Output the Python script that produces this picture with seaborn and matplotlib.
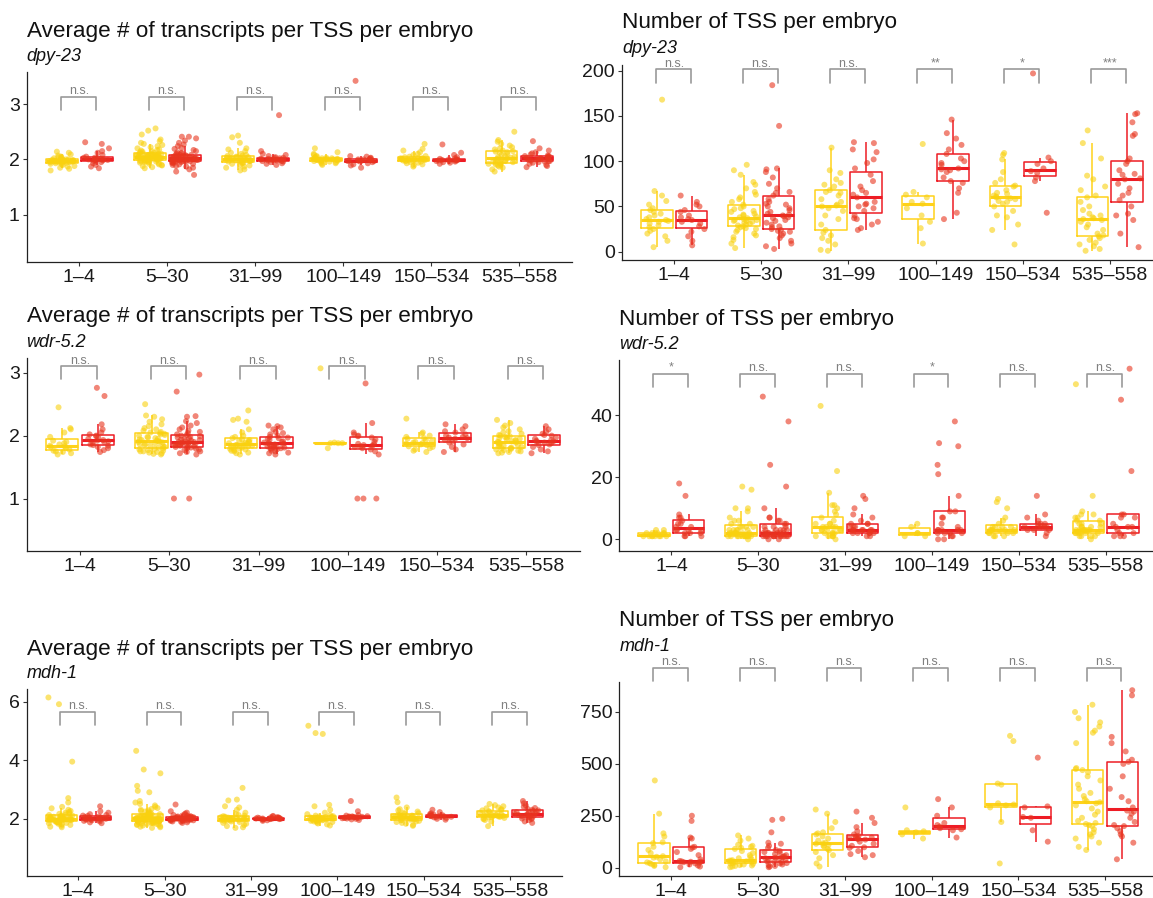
import numpy as np
import pandas as pd
import seaborn as sns
import matplotlib
matplotlib.use("Agg")
import matplotlib.pyplot as plt

# ----------------------------------------
# Data: one list per length bin, per group
# ----------------------------------------

BINS = ["1–4", "5–30", "31–99", "100–149", "150–534", "535–558"]
GROUPS = ["yellow", "red"]

# dpy-23: average # of transcripts per TSS per embryo
dpy23_avg_yellow = [
    [1.80, 1.83, 1.85, 1.87, 1.88, 1.90, 1.91, 1.92, 1.93, 1.94, 1.94, 1.95, 1.95, 1.95, 1.96, 1.96, 1.96, 1.97, 1.97,
     1.97, 1.97, 1.98, 1.98, 1.98, 1.99, 1.99, 2.00, 2.00, 2.00, 2.01, 2.02, 2.03, 2.04, 2.05, 2.07, 2.09, 2.12, 2.14],
    [1.84, 1.86, 1.88, 1.89, 1.90, 1.91, 1.92, 1.93, 1.94, 1.95, 1.95, 1.96, 1.96, 1.97, 1.97, 1.98, 1.98, 1.98, 1.99,
     1.99, 1.99, 2.00, 2.00, 2.00, 2.01, 2.01, 2.01, 2.02, 2.02, 2.02, 2.03, 2.03, 2.03, 2.04, 2.04, 2.04, 2.05, 2.05,
     2.05, 2.05, 2.06, 2.06, 2.06, 2.07, 2.07, 2.07, 2.08, 2.08, 2.08, 2.09, 2.09, 2.10, 2.10, 2.11, 2.11, 2.12, 2.13,
     2.14, 2.15, 2.16, 2.17, 2.18, 2.20, 2.22, 2.24, 2.26, 2.28, 2.30, 2.33, 2.36, 2.45, 2.52, 2.56],
    [1.80, 1.82, 1.85, 1.87, 1.89, 1.90, 1.92, 1.93, 1.94, 1.95, 1.96, 1.97, 1.97, 1.98, 1.98, 1.99, 1.99, 2.00, 2.00,
     2.00, 2.01, 2.01, 2.02, 2.02, 2.03, 2.04, 2.04, 2.05, 2.06, 2.07, 2.08, 2.10, 2.12, 2.15, 2.18, 2.20, 2.30, 2.40, 2.43],
    [1.90, 1.92, 1.93, 1.94, 1.95, 1.96, 1.97, 1.97, 1.98, 1.98, 1.98, 1.99, 1.99, 1.99, 2.00, 2.00, 2.00, 2.00, 2.01,
     2.01, 2.01, 2.02, 2.02, 2.03, 2.03, 2.04, 2.05, 2.06, 2.08, 2.10, 2.13, 2.20],
    [1.87, 1.89, 1.91, 1.93, 1.94, 1.95, 1.96, 1.97, 1.97, 1.98, 1.98, 1.99, 1.99, 2.00, 2.00, 2.00, 2.01, 2.01, 2.02,
     2.02, 2.03, 2.04, 2.05, 2.06, 2.08, 2.10, 2.13, 2.16, 2.19, 2.28],
    [1.78, 1.82, 1.85, 1.87, 1.89, 1.90, 1.91, 1.92, 1.93, 1.94, 1.94, 1.95, 1.96, 1.97, 1.98, 1.99, 2.00, 2.00, 2.01,
     2.02, 2.03, 2.04, 2.05, 2.06, 2.08, 2.10, 2.12, 2.13, 2.14, 2.15, 2.16, 2.18, 2.20, 2.22, 2.25, 2.28, 2.32, 2.35, 2.50],
]
dpy23_avg_red = [
    [1.84, 1.87, 1.90, 1.93, 1.95, 1.97, 1.98, 1.98, 1.99, 1.99, 2.00, 2.00, 2.00, 2.01, 2.01, 2.02, 2.03, 2.03, 2.05,
     2.08, 2.12, 2.15, 2.20, 2.28, 2.31],
    [1.72, 1.78, 1.82, 1.85, 1.87, 1.88, 1.90, 1.91, 1.92, 1.93, 1.94, 1.95, 1.95, 1.96, 1.96, 1.97, 1.97, 1.97, 1.98,
     1.98, 1.98, 1.99, 1.99, 1.99, 2.00, 2.00, 2.00, 2.01, 2.01, 2.01, 2.02, 2.02, 2.02, 2.02, 2.03, 2.03, 2.03, 2.04,
     2.04, 2.05, 2.05, 2.06, 2.06, 2.07, 2.07, 2.08, 2.08, 2.09, 2.10, 2.11, 2.12, 2.13, 2.15, 2.17, 2.19, 2.21, 2.24,
     2.27, 2.30, 2.34, 2.38, 2.41, 2.41],
    [1.90, 1.92, 1.93, 1.95, 1.96, 1.97, 1.97, 1.98, 1.98, 1.99, 1.99, 1.99, 2.00, 2.00, 2.00, 2.01, 2.01, 2.02, 2.03,
     2.03, 2.04, 2.06, 2.08, 2.10, 2.15, 2.80],
    [1.85, 1.89, 1.91, 1.93, 1.95, 1.96, 1.97, 1.97, 1.98, 1.98, 1.98, 1.99, 1.99, 2.00, 2.00, 2.01, 2.02, 2.03, 2.05,
     2.06, 3.42],
    [1.92, 1.94, 1.95, 1.96, 1.97, 1.97, 1.98, 1.98, 1.98, 1.99, 1.99, 2.00, 2.00, 2.01, 2.02, 2.04, 2.08, 2.12, 2.27],
    [1.86, 1.88, 1.90, 1.92, 1.94, 1.95, 1.96, 1.97, 1.97, 1.98, 1.99, 2.00, 2.00, 2.01, 2.02, 2.02, 2.03, 2.03, 2.04,
     2.05, 2.06, 2.06, 2.07, 2.09, 2.11, 2.13, 2.16, 2.20, 2.33],
]

# dpy-23: number of TSS per embryo
dpy23_tss_yellow = [
    [5, 12, 17, 20, 23, 25, 27, 29, 31, 33, 34, 35, 36, 38, 40, 42, 44, 46, 48, 52, 56, 62, 67, 168],
    [4, 9, 13, 16, 18, 20, 22, 24, 25, 26, 27, 28, 29, 30, 31, 32, 33, 34, 34, 35, 35, 36, 37, 38, 39, 40, 41, 42, 44,
     45, 47, 48, 50, 52, 55, 58, 60, 63, 66, 70, 74, 77, 85, 90, 96],
    [1, 2, 8, 12, 15, 18, 21, 24, 30, 36, 40, 45, 48, 50, 51, 52, 55, 58, 62, 65, 66, 68, 72, 74, 76, 80, 87, 90, 115],
    [9, 26, 33, 40, 48, 53, 55, 60, 63, 66, 119],
    [8, 24, 30, 38, 40, 45, 50, 53, 55, 56, 58, 59, 60, 61, 62, 64, 65, 68, 72, 73, 76, 80, 88, 102, 107, 109],
    [1, 3, 6, 8, 10, 13, 15, 17, 18, 20, 24, 27, 30, 33, 35, 36, 37, 38, 40, 42, 46, 50, 55, 60, 62, 68, 72, 80, 84,
     103, 120, 134],
]
dpy23_tss_red = [
    [7, 12, 17, 22, 25, 28, 31, 33, 35, 36, 38, 40, 44, 46, 50, 52, 55, 62],
    [3, 6, 9, 12, 15, 18, 20, 22, 23, 24, 25, 27, 28, 30, 32, 34, 35, 37, 38, 39, 40, 41, 42, 44, 46, 48, 50, 52, 53,
     55, 58, 62, 65, 66, 70, 75, 82, 88, 91, 92, 139, 184],
    [24, 26, 30, 33, 36, 37, 40, 45, 48, 50, 52, 53, 55, 60, 63, 65, 68, 72, 78, 85, 92, 98, 102, 110, 113, 120, 121],
    [36, 43, 65, 70, 76, 78, 82, 88, 90, 91, 92, 96, 98, 100, 103, 108, 113, 118, 125, 131, 146],
    [43, 78, 82, 87, 89, 92, 97, 100, 104, 197],
    [5, 20, 35, 40, 42, 50, 57, 62, 65, 70, 75, 80, 81, 85, 86, 90, 97, 100, 103, 128, 130, 143, 152, 153],
]

# wdr-5.2: average # of transcripts per TSS per embryo
wdr52_avg_yellow = [
    [1.70, 1.72, 1.74, 1.75, 1.76, 1.78, 1.80, 1.82, 1.83, 1.84, 1.86, 1.88, 1.90, 1.92, 1.98, 2.05, 2.10, 2.12, 2.45],
    [1.70, 1.71, 1.72, 1.73, 1.74, 1.75, 1.75, 1.76, 1.77, 1.78, 1.79, 1.80, 1.81, 1.82, 1.83, 1.84, 1.85, 1.86, 1.87,
     1.88, 1.89, 1.90, 1.90, 1.91, 1.92, 1.93, 1.94, 1.95, 1.96, 1.97, 1.98, 2.00, 2.01, 2.02, 2.03, 2.04, 2.05, 2.06,
     2.08, 2.10, 2.12, 2.15, 2.18, 2.22, 2.26, 2.30, 2.32, 2.50],
    [1.70, 1.72, 1.73, 1.75, 1.76, 1.77, 1.78, 1.79, 1.80, 1.80, 1.81, 1.82, 1.83, 1.84, 1.85, 1.85, 1.86, 1.87, 1.88,
     1.89, 1.90, 1.91, 1.92, 1.93, 1.94, 1.96, 1.98, 2.00, 2.05, 2.10, 2.22, 2.25, 2.27, 2.40],
    [1.80, 1.88, 1.88, 1.88, 1.89, 3.07],
    [1.74, 1.76, 1.78, 1.80, 1.82, 1.83, 1.85, 1.86, 1.87, 1.88, 1.89, 1.90, 1.91, 1.93, 1.95, 1.96, 1.98, 2.00, 2.03,
     2.05, 2.27],
    [1.72, 1.73, 1.74, 1.75, 1.76, 1.77, 1.78, 1.79, 1.80, 1.80, 1.81, 1.82, 1.83, 1.84, 1.85, 1.86, 1.87, 1.88, 1.89,
     1.90, 1.90, 1.91, 1.92, 1.93, 1.94, 1.95, 1.96, 1.97, 1.98, 1.99, 2.00, 2.01, 2.03, 2.05, 2.07, 2.10, 2.13, 2.16,
     2.20, 2.25],
]
wdr52_avg_red = [
    [1.74, 1.77, 1.80, 1.82, 1.84, 1.85, 1.86, 1.88, 1.90, 1.91, 1.92, 1.93, 1.95, 1.97, 1.99, 2.00, 2.02, 2.05, 2.10,
     2.18, 2.63, 2.76],
    [1.00, 1.00, 1.70, 1.72, 1.74, 1.75, 1.77, 1.78, 1.79, 1.80, 1.81, 1.82, 1.82, 1.83, 1.84, 1.85, 1.85, 1.86, 1.86,
     1.87, 1.87, 1.88, 1.88, 1.89, 1.89, 1.90, 1.90, 1.91, 1.92, 1.93, 1.94, 1.95, 1.96, 1.97, 1.98, 1.99, 2.00, 2.01,
     2.02, 2.04, 2.06, 2.08, 2.10, 2.13, 2.16, 2.20, 2.23, 2.30, 2.31, 2.70, 2.97],
    [1.70, 1.72, 1.73, 1.75, 1.76, 1.78, 1.79, 1.80, 1.80, 1.81, 1.82, 1.83, 1.84, 1.85, 1.86, 1.86, 1.87, 1.88, 1.89,
     1.90, 1.91, 1.93, 1.95, 1.96, 1.97, 1.98, 2.00, 2.02, 2.04, 2.06, 2.10, 2.13, 2.15, 2.16],
    [1.00, 1.00, 1.00, 1.70, 1.75, 1.78, 1.80, 1.82, 1.83, 1.84, 1.85, 1.86, 1.87, 1.90, 1.94, 1.97, 1.99, 2.00, 2.02,
     2.05, 2.20, 2.83],
    [1.74, 1.78, 1.82, 1.86, 1.89, 1.91, 1.93, 1.95, 1.96, 1.97, 1.98, 2.00, 2.02, 2.05, 2.07, 2.10, 2.15, 2.18],
    [1.72, 1.75, 1.78, 1.82, 1.85, 1.86, 1.88, 1.89, 1.90, 1.91, 1.92, 1.93, 1.95, 1.97, 2.00, 2.01, 2.03, 2.06, 2.10,
     2.15],
]

# wdr-5.2: number of TSS per embryo
wdr52_tss_yellow = [
    [1, 1, 1, 1, 1, 1, 1, 1, 2, 2, 2, 2, 2, 2, 3, 3],
    [0, 1, 1, 1, 1, 1, 1, 1, 1, 1, 1, 1, 2, 2, 2, 2, 2, 2, 2, 2, 3, 3, 3, 3, 3, 4, 4, 4, 4, 5, 5, 6, 6, 7, 9, 10, 10,
     16, 17],
    [0, 1, 1, 1, 1, 1, 2, 2, 2, 2, 3, 3, 3, 3, 3, 4, 4, 4, 4, 5, 5, 5, 6, 7, 8, 9, 10, 11, 11, 15, 22, 43],
    [1, 1, 2, 2, 4, 5],
    [1, 1, 1, 2, 2, 2, 2, 3, 3, 3, 3, 3, 3, 4, 4, 4, 4, 5, 6, 7, 10, 12, 13],
    [0, 1, 1, 1, 1, 2, 2, 2, 2, 2, 2, 3, 3, 3, 3, 3, 3, 3, 4, 4, 4, 4, 5, 5, 5, 6, 6, 7, 7, 8, 8, 9, 14, 50],
]
wdr52_tss_red = [
    [1, 1, 1, 2, 2, 2, 3, 3, 3, 3, 4, 4, 5, 5, 6, 7, 7, 8, 14, 18],
    [0, 0, 1, 1, 1, 1, 1, 1, 1, 1, 1, 1, 1, 2, 2, 2, 2, 2, 2, 2, 2, 3, 3, 3, 3, 3, 4, 4, 4, 5, 5, 6, 6, 7, 7, 10, 17,
     24, 38, 46],
    [1, 1, 2, 2, 2, 2, 2, 3, 3, 3, 3, 3, 3, 4, 4, 4, 5, 5, 5, 6, 7, 8, 10, 13, 14],
    [0, 0, 1, 1, 2, 2, 2, 2, 3, 3, 3, 3, 3, 4, 5, 7, 7, 9, 9, 14, 21, 24, 30, 31, 38],
    [1, 2, 3, 3, 3, 4, 4, 4, 4, 4, 5, 5, 5, 6, 7, 8, 14],
    [1, 1, 1, 2, 2, 3, 4, 4, 4, 5, 7, 7, 8, 8, 22, 45, 55],
]

# mdh-1: average # of transcripts per TSS per embryo
mdh1_avg_yellow = [
    [1.70, 1.72, 1.75, 1.78, 1.80, 1.82, 1.84, 1.85, 1.86, 1.87, 1.88, 1.89, 1.90, 1.91, 1.92, 1.93, 1.93, 1.94, 1.94,
     1.95, 1.95, 1.96, 1.96, 1.97, 1.97, 1.97, 1.98, 1.98, 1.98, 1.99, 1.99, 2.00, 2.00, 2.00, 2.01, 2.02, 2.03, 2.04,
     2.05, 2.06, 2.07, 2.08, 2.09, 2.10, 2.12, 2.14, 2.16, 2.18, 2.20, 2.23, 2.26, 2.30, 2.35, 2.40, 2.55, 2.70, 3.95,
     5.92, 6.15],
    [1.68, 1.70, 1.72, 1.74, 1.76, 1.78, 1.79, 1.80, 1.81, 1.82, 1.83, 1.84, 1.85, 1.86, 1.87, 1.88, 1.89, 1.90, 1.90,
     1.91, 1.91, 1.92, 1.92, 1.93, 1.93, 1.94, 1.94, 1.95, 1.95, 1.96, 1.96, 1.97, 1.97, 1.98, 1.98, 1.99, 1.99, 2.00,
     2.00, 2.00, 2.01, 2.01, 2.02, 2.02, 2.03, 2.03, 2.04, 2.05, 2.05, 2.06, 2.07, 2.08, 2.09, 2.10, 2.11, 2.12, 2.13,
     2.14, 2.15, 2.16, 2.18, 2.20, 2.22, 2.24, 2.26, 2.28, 2.30, 2.33, 2.36, 2.40, 2.45, 2.50, 2.55, 2.60, 2.90, 2.95,
     3.12, 3.55, 3.68, 4.32],
    [1.68, 1.70, 1.74, 1.78, 1.82, 1.85, 1.88, 1.90, 1.92, 1.93, 1.94, 1.95, 1.96, 1.97, 1.98, 1.98, 1.99, 2.00, 2.00,
     2.01, 2.02, 2.02, 2.03, 2.04, 2.05, 2.06, 2.08, 2.10, 2.12, 2.15, 2.20, 2.30, 2.38, 2.42, 2.62, 2.65, 3.05],
    [1.76, 1.80, 1.83, 1.86, 1.88, 1.90, 1.91, 1.92, 1.93, 1.94, 1.95, 1.95, 1.96, 1.97, 1.97, 1.98, 1.98, 1.99, 1.99,
     2.00, 2.00, 2.00, 2.01, 2.01, 2.02, 2.03, 2.03, 2.04, 2.05, 2.06, 2.07, 2.08, 2.10, 2.12, 2.15, 2.20, 2.30, 2.42,
     2.47, 4.90, 4.93, 5.18],
    [1.75, 1.78, 1.82, 1.85, 1.88, 1.90, 1.92, 1.94, 1.95, 1.96, 1.97, 1.98, 1.99, 2.00, 2.01, 2.02, 2.03, 2.04, 2.05,
     2.05, 2.06, 2.07, 2.08, 2.09, 2.10, 2.11, 2.12, 2.14, 2.16, 2.18, 2.20, 2.24, 2.28, 2.32, 2.38, 2.56, 2.72],
    [1.74, 1.90, 1.95, 1.98, 2.00, 2.02, 2.04, 2.05, 2.06, 2.07, 2.08, 2.09, 2.10, 2.11, 2.12, 2.13, 2.14, 2.15, 2.17,
     2.20, 2.22, 2.25, 2.28, 2.30, 2.32, 2.35, 2.38, 2.42, 2.46, 2.50],
]
mdh1_avg_red = [
    [1.84, 1.87, 1.90, 1.92, 1.94, 1.95, 1.96, 1.97, 1.98, 1.99, 2.00, 2.00, 2.01, 2.02, 2.03, 2.04, 2.05, 2.07, 2.09,
     2.10, 2.12, 2.15, 2.20, 2.25, 2.42],
    [1.85, 1.87, 1.89, 1.90, 1.91, 1.92, 1.93, 1.94, 1.95, 1.95, 1.96, 1.96, 1.97, 1.97, 1.98, 1.98, 1.98, 1.99, 1.99,
     1.99, 2.00, 2.00, 2.00, 2.00, 2.01, 2.01, 2.01, 2.02, 2.02, 2.03, 2.03, 2.04, 2.04, 2.05, 2.05, 2.06, 2.07, 2.08,
     2.09, 2.10, 2.12, 2.14, 2.17, 2.20, 2.25, 2.48],
    [1.92, 1.94, 1.96, 1.97, 1.98, 1.98, 1.99, 1.99, 2.00, 2.00, 2.00, 2.01, 2.01, 2.02, 2.02, 2.03, 2.03, 2.04, 2.05,
     2.07, 2.09],
    [1.95, 1.97, 1.99, 2.00, 2.01, 2.02, 2.02, 2.03, 2.04, 2.04, 2.05, 2.05, 2.06, 2.06, 2.07, 2.07, 2.08, 2.10, 2.12,
     2.25, 2.60],
    [1.96, 1.99, 2.02, 2.04, 2.05, 2.06, 2.07, 2.08, 2.08, 2.09, 2.10, 2.11, 2.12, 2.13, 2.15, 2.18, 2.22, 2.30],
    [1.85, 1.90, 1.95, 1.98, 2.00, 2.02, 2.04, 2.06, 2.08, 2.10, 2.12, 2.14, 2.15, 2.16, 2.18, 2.20, 2.22, 2.24, 2.26,
     2.28, 2.30, 2.33, 2.36, 2.40, 2.45, 2.52, 2.60],
]

# mdh-1: number of TSS per embryo
mdh1_tss_yellow = [
    [2, 8, 12, 18, 22, 25, 30, 40, 48, 52, 55, 70, 85, 100, 118, 122, 150, 165, 260, 420],
    [2, 5, 8, 10, 12, 15, 18, 20, 22, 25, 28, 30, 32, 34, 36, 40, 45, 50, 60, 70, 80, 90, 95, 100, 105, 110, 130, 140, 155],
    [5, 20, 45, 60, 75, 84, 90, 100, 105, 110, 115, 117, 120, 130, 140, 150, 160, 165, 170, 190, 220, 260, 280],
    [140, 160, 170, 175, 180, 290],
    [20, 220, 290, 300, 304, 310, 400, 405, 610, 635],
    [85, 100, 120, 140, 150, 160, 170, 185, 200, 205, 210, 215, 225, 240, 255, 270, 285, 300, 310, 315, 320, 330, 345,
     360, 380, 400, 420, 440, 460, 470, 475, 480, 600, 650, 660, 680, 700, 720, 750, 785],
]
mdh1_tss_red = [
    [2, 5, 10, 15, 20, 24, 26, 28, 29, 30, 32, 40, 60, 75, 90, 97, 100, 140, 145, 225, 250],
    [2, 5, 8, 12, 15, 20, 22, 25, 28, 30, 35, 40, 42, 45, 48, 50, 52, 55, 60, 65, 70, 75, 80, 85, 95, 105, 115, 120,
     170, 230, 235],
    [50, 60, 65, 80, 95, 98, 105, 115, 125, 135, 138, 140, 142, 145, 148, 150, 153, 160, 175, 195, 215, 240, 270],
    [145, 180, 185, 190, 198, 205, 215, 250, 290, 330],
    [125, 180, 240, 244, 290, 295, 530],
    [40, 120, 150, 160, 175, 190, 200, 205, 220, 240, 260, 270, 275, 290, 320, 340, 380, 440, 500, 510, 520, 560, 600,
     630, 830, 855],
]

# significance labels per bin
sig_dpy23_avg = ["n.s."] * 6
sig_dpy23_tss = ["n.s.", "n.s.", "n.s.", "**", "*", "***"]
sig_wdr52_avg = ["n.s."] * 6
sig_wdr52_tss = ["*", "n.s.", "n.s.", "*", "n.s.", "n.s."]
sig_mdh1_avg = ["n.s."] * 6
sig_mdh1_tss = ["n.s."] * 6

AVG_TITLE = "Average # of transcripts per TSS per embryo"
TSS_TITLE = "Number of TSS per embryo"


def to_frame(yellow, red):
    rows = []
    for grp, series in zip(GROUPS, [yellow, red]):
        for b, vals in zip(BINS, series):
            rows += [(b, grp, v) for v in vals]
    return pd.DataFrame(rows, columns=["bin", "group", "value"])


# panel layout in pixels: (left, top, right, bottom), title / subtitle baselines,
# y-limits, y-ticks, bracket (low, high, label baseline)
panels = [
    dict(title=AVG_TITLE, gene="dpy-23", y=dpy23_avg_yellow, r=dpy23_avg_red, sig=sig_dpy23_avg,
         box=(26.6, 72, 572, 262), tb=36.7, sb=60.7, ylim=(0.145, 3.58), yt=[1, 2, 3], br=(2.9, 3.13, 3.18)),
    dict(title=TSS_TITLE, gene="dpy-23", y=dpy23_tss_yellow, r=dpy23_tss_red, sig=sig_dpy23_tss,
         box=(622, 65, 1162, 260), tb=28.3, sb=53.3, ylim=(-9.2, 206.3), yt=[0, 50, 100, 150, 200],
         br=(186.7, 201.5, 204.4)),
    dict(title=AVG_TITLE, gene="wdr-5.2", y=wdr52_avg_yellow, r=wdr52_avg_red, sig=sig_wdr52_avg,
         box=(26.6, 358, 580, 551), tb=322.3, sb=347.3, ylim=(0.166, 3.234), yt=[1, 2, 3], br=(2.9, 3.10, 3.14)),
    dict(title=TSS_TITLE, gene="wdr-5.2", y=wdr52_tss_yellow, r=wdr52_tss_red, sig=sig_wdr52_tss,
         box=(619.4, 360, 1157.6, 551), tb=325, sb=349.3, ylim=(-3.77, 57.8), yt=[0, 20, 40],
         br=(49.2, 53.2, 54.3)),
    dict(title=AVG_TITLE, gene="mdh-1", y=mdh1_avg_yellow, r=mdh1_avg_red, sig=sig_mdh1_avg,
         box=(26.6, 689, 562, 876), tb=655, sb=678.3, ylim=(0.03, 6.44), yt=[2, 4, 6], br=(5.22, 5.66, 5.77)),
    dict(title=TSS_TITLE, gene="mdh-1", y=mdh1_tss_yellow, r=mdh1_tss_red, sig=sig_mdh1_tss,
         box=(619.4, 682, 1157, 876), tb=625.7, sb=651, ylim=(-40.5, 894.6), yt=[0, 250, 500, 750],
         br=(899, 961, 977)),
]

# ----------------------------------------
# Plot
# ----------------------------------------

sns.set_theme(style="ticks")
plt.rcParams["font.family"] = ["Liberation Sans", "DejaVu Sans"]

W, H = 1153, 898
fig = plt.figure(figsize=(W / 100, H / 100), dpi=100)
np.random.seed(7)

box_pal = {"yellow": "#FFD21A", "red": "#EE1C25"}
pt_pal = {"yellow": "#F9D10F", "red": "#E8351F"}

for p in panels:
    left, top, right, bottom = p["box"]
    ax = fig.add_axes([left / W, 1 - bottom / H, (right - left) / W, (bottom - top) / H])
    df = to_frame(p["y"], p["r"])

    sns.boxplot(data=df, x="bin", y="value", hue="group", order=BINS, hue_order=GROUPS,
                palette=box_pal, fill=False, width=0.8, gap=0.1, showcaps=False,
                showfliers=False, linewidth=1.1, medianprops={"linewidth": 2.2},
                legend=False, ax=ax)
    sns.stripplot(data=df, x="bin", y="value", hue="group", order=BINS, hue_order=GROUPS,
                  palette=pt_pal, dodge=True, jitter=0.3, size=4.3, alpha=0.6, linewidth=0,
                  legend=False, ax=ax)

    ax.set_xlim(-0.6, 5.6)
    ax.set_ylim(*p["ylim"])
    ax.set_yticks(p["yt"])
    ax.set_xlabel("")
    ax.set_ylabel("")
    sns.despine(ax=ax)
    for s in ["left", "bottom"]:
        ax.spines[s].set_color("#222222")
        ax.spines[s].set_linewidth(0.9)
    ax.tick_params(axis="both", labelsize=14, length=3, width=0.8, color="#333333",
                   labelcolor="#1a1a1a", pad=2)

    lo, hi, tb = p["br"]
    for i, lab in enumerate(p["sig"]):
        ax.plot([i - 0.21, i - 0.21, i + 0.19, i + 0.19], [lo, hi, hi, lo],
                color="#999999", lw=1.2, clip_on=False, zorder=5)
        ax.text(i, tb, lab, ha="center", va="baseline", fontsize=9, color="#808080", clip_on=False)

    fig.text(left / W, 1 - p["tb"] / H, p["title"], fontsize=16.2, ha="left", va="baseline", color="#111111")
    fig.text(left / W, 1 - p["sb"] / H, p["gene"], fontsize=13, style="italic", ha="left",
             va="baseline", color="#111111")

fig.savefig("out.png", dpi=100)
